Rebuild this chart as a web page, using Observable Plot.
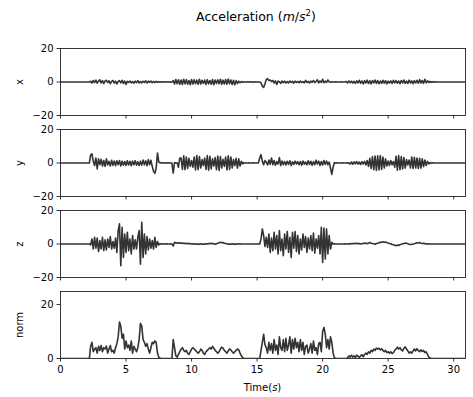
<!DOCTYPE html>
<html><head><meta charset="utf-8">
<script src="https://cdn.jsdelivr.net/npm/d3@7"></script>
<script src="https://cdn.jsdelivr.net/npm/@observablehq/plot@0.6"></script>
<style>
body{margin:0;background:#fff;font-family:"DejaVu Sans",sans-serif;}
#fig{position:relative;width:473px;height:397px;overflow:hidden;background:#fff}
#title{position:absolute;top:10px;left:0;width:512px;text-align:center;font-size:12.5px;line-height:14px;color:#000;white-space:nowrap}
#title sup{font-size:8.5px;position:relative;top:-5px;vertical-align:baseline;line-height:0}
#xlabel{position:absolute;top:381px;left:0;width:525px;text-align:center;font-size:10px;line-height:14px;color:#000}
.panel{position:absolute;left:0}
</style></head>
<body>
<div id="fig">
  <div id="title">Acceleration (<i>m</i>/<i>s</i><sup>2</sup>)</div>
  <div id="xlabel">Time(<i>s</i>)</div>
</div>
<script>
// sampling grid of the readings (seconds)
const tStart = 2.2, tStep = 0.1, tEnd = 30.9;
const xTicks = [0, 5, 10, 15, 20, 25, 30];
const axisTicks = [-20, 0, 20];
const normTicks = [0, 20];
const panelNames = ["x", "y", "z", "norm"];

const accX = [
0,0.4,-0.6,0.9,-0.4,1.1,-0.7,0.5,1.3,-0.5,
0.8,-0.9,0.6,1.0,-0.3,0.7,-1.0,0.4,0.9,-0.6,
0.5,-1.2,0.3,0.8,-0.5,1.0,-0.8,0.6,-1.4,0.4,
-0.3,0.6,-0.5,0.3,-0.7,0.5,-0.4,0.8,-0.6,0.3,
-0.5,0.4,-0.3,0.7,-0.6,0.5,-0.2,0.6,-0.4,0.3,
-0.3,0.4,-0.2,0.2,-0.1,0.1,0,0.1,0,0,
0.1,0,-0.1,0,0.8,-1.2,1.5,-1.0,1.3,-1.4,
1.2,-1.5,1.6,-1.1,1.4,-1.3,0.9,-1.6,1.5,-1.2,
1.3,-1.0,1.1,-1.4,1.6,-1.2,1.0,-0.8,1.2,-1.5,
1.4,-1.1,0.9,-1.3,1.5,-1.6,1.2,-0.9,1.3,-1.1,
1.6,-1.4,1.1,-1.2,1.5,-1.3,1.8,-1.0,1.2,-1.5,
1.0,-1.6,0.8,-0.9,0.5,-0.4,0.3,-0.2,0.1,0,
0,0.1,0,0.1,0,-0.1,0,0.1,0,0,
0,-0.5,-2.5,-3.2,-1.0,1.5,2.0,0.8,1.2,0.3,
0.9,-0.6,0.7,-1.5,0.5,0.2,-0.8,0.6,-0.4,0.5,
-0.6,0.3,-0.5,0.6,-0.3,0.4,-0.7,0.5,-0.2,0.3,
-0.4,0.6,-0.3,0.2,-0.5,1.0,-0.3,0.4,-0.6,0.5,
-0.2,0.9,-0.4,0.3,1.3,-0.5,0.6,-0.3,1.6,-0.4,
0.5,-0.3,1.2,0.2,-0.1,0.1,0,0,0.1,0,
0,0,0.1,0,0,0,0.3,-0.5,0.6,-0.4,
0.5,-0.6,0.4,-0.8,0.7,-0.5,1.0,-0.7,0.6,-1.2,
0.8,-0.6,1.1,-0.9,0.7,-1.1,0.9,-0.5,1.2,-0.8,
0.9,-1.0,0.6,-0.8,1.0,-0.7,0.8,-1.1,0.5,-0.6,
0.7,-0.9,1.0,-0.5,0.8,-0.7,0.6,-1.0,0.9,-0.6,
1.2,-0.8,0.5,-0.9,1.1,-0.6,0.7,-1.0,0.8,-0.5,
1.0,-0.7,1.4,-0.6,0.9,-0.8,1.6,-0.5,0.7,-0.3,
0.3,-0.2,0.2,-0.1,0.1,0,0,0,0,0
];

const accY = [
0,4.8,5.5,1.0,-1.5,3.0,-3.5,2.5,-1.0,2.2,
-1.8,1.5,-2.0,2.5,-1.2,1.0,-1.8,1.6,-1.4,1.2,
-1.6,1.3,-1.0,1.5,-1.8,1.1,-1.3,0.9,-1.5,1.4,
-1.2,1.0,-1.6,1.2,-1.0,1.4,-1.3,0.8,-1.5,1.1,
-1.3,1.8,-1.1,1.3,-1.6,2.0,-1.0,1.6,-2.0,-5.0,
-6.2,-3.0,6.0,0.5,0.2,0.1,0,0.1,0,0.1,
0,0.1,0,-0.1,-6.0,0.3,0,0.1,-2.5,3.0,
3.0,-3.8,4.3,-4.0,3.6,-3.2,2.8,-2.0,1.5,-2.5,
3.5,-4.2,4.5,-4.0,3.8,-3.0,2.0,-1.5,3.0,-3.8,
4.4,-4.3,4.0,-3.5,2.5,-1.8,3.2,-4.0,4.2,-4.4,
3.8,-3.0,2.2,-2.0,3.5,-4.1,4.3,-3.8,3.6,-3.0,
2.0,-1.5,2.8,-3.0,2.5,-1.8,1.0,-0.5,0.2,0,
0,0,0.1,0,0,0.1,0,0,0,0.1,
3.0,5.0,1.0,-1.0,1.5,0.5,-1.2,1.8,-0.8,3.0,
-1.0,1.5,-1.3,0.8,-0.6,3.2,-1.5,1.2,-1.0,0.9,
-1.2,1.0,-0.8,1.3,-1.5,0.7,-0.9,1.1,-0.6,0.8,
-1.0,0.9,-1.4,1.2,-0.7,0.6,-1.1,1.4,-0.9,1.0,
-1.3,0.8,-1.0,1.7,-0.6,1.1,-1.5,0.9,-1.2,1.5,
-0.8,1.2,-1.0,0.5,-3.0,-6.8,-2.5,0.3,0,0.1,
0,0,0,0.1,0,0,0,0.1,0,-0.6,
0.6,-0.8,0.7,-0.5,0.9,-0.7,0.6,-0.9,0.8,-0.6,
1.0,-1.2,1.5,-2.0,2.8,-3.2,3.8,-4.0,4.2,-4.4,
4.3,-4.1,4.4,-3.9,3.5,-3.0,2.5,-1.8,1.2,-1.5,
1.5,-1.0,0.8,-2.5,4.0,-4.3,4.5,-4.0,3.8,-3.5,
3.2,-3.0,2.0,-1.2,1.8,-3.0,3.5,-3.2,3.4,-3.0,
3.0,-3.2,2.8,-3.0,2.5,-2.2,1.8,-1.5,1.0,-0.6,
0.3,-0.2,0.1,0,0,0,0,0,0,0
];

const accZ = [
0,-0.5,3.0,-3.0,4.0,-2.5,3.5,-4.5,2.0,-3.0,
4.0,-4.0,2.5,-3.5,3.0,-2.0,4.5,-3.0,1.5,-2.5,
3.5,-5.0,8.0,12.0,-13.0,10.0,-8.0,6.0,-5.0,7.0,
-4.0,3.0,-6.0,5.0,-3.0,2.5,-3.0,4.0,8.0,-12.0,
13.0,-8.0,6.0,-6.0,4.5,-3.5,3.0,-2.5,2.0,-3.0,
4.0,-2.0,1.5,-0.5,0.2,0,0.1,0,0,0.1,
0,0,0.1,0,-1.2,1.0,0.6,0.8,0.5,0.7,
0.4,0.6,0.3,0.5,0.2,0.4,0.1,0.3,0.0,0.2,
-0.1,0.1,-0.2,0,-0.1,0.1,-0.2,0.0,-0.1,0.2,
0,0.3,0.1,0.5,0.2,0.1,-0.1,0.2,0.5,0.8,
1.0,0.7,0.9,0.5,0.3,0.1,-0.1,0.0,-0.2,0.1,
-0.1,0,-0.2,0.1,0,0.1,0,0,0,0,
0,0,0,0,0,0,0,0,0,0,
0,3.0,9.0,5.0,-1.5,4.0,-2.0,6.0,-5.0,3.5,
-4.0,7.0,-3.0,5.0,-6.0,8.0,-4.0,3.0,-7.0,6.0,
-3.0,7.5,-5.0,4.0,-8.0,7.0,-2.5,7.5,-4.5,5.0,
-6.0,3.0,-3.5,6.0,-2.0,4.5,-5.0,3.5,-3.0,5.0,
-4.0,6.5,-5.5,3.0,-2.5,5.0,-6.0,10.0,-11.0,9.5,
-9.0,9.0,-6.0,5.0,-3.0,1.0,0,0.1,0,0,
0,0,0,0,0,0.1,0,0,0.2,0,
0.3,0.1,0.4,0.2,0.5,0.1,0.3,0,0.2,0.4,
0.3,0.6,0.2,0.5,1.0,0.4,0.3,0.1,-0.2,0.3,
0.5,0.8,1.1,0.9,1.3,1.0,1.2,0.8,0.6,0.3,
0.1,-0.3,-0.5,-0.8,-1.0,-0.6,-0.9,-0.4,-0.2,0.1,
0.3,0.5,0.4,0.2,-0.1,-0.3,-0.2,0,0.2,0.5,
0.8,0.6,0.9,0.5,0.3,0.4,0.2,0.1,0,0.1,
0,0,0,0,0,0,0,0,0,0
];

const accNorm = [
0,4.5,6.0,2.5,3.5,4.0,2.0,4.5,3.0,4.8,
2.5,4.0,3.5,4.6,2.0,3.5,4.8,2.5,3.0,2.0,
4.0,5.5,8.0,13.5,12.0,7.5,9.0,3.5,6.5,4.0,
5.0,3.0,6.5,2.0,4.5,3.5,2.5,4.0,7.0,13.0,
12.0,7.0,6.0,4.5,5.5,3.5,2.0,4.0,6.0,5.5,
6.5,6.0,2.0,0.5,0.1,0,0,0,0,0,
0,0,0,0,7.0,4.0,1.0,0.5,1.5,2.5,
3.5,4.0,3.0,2.5,3.0,2.0,1.5,2.5,3.5,4.0,
3.5,3.0,2.5,2.0,2.5,3.5,3.0,2.0,1.5,2.5,
3.0,3.5,4.0,3.5,4.5,3.8,3.0,2.5,2.0,2.5,
3.5,4.2,3.8,3.0,2.5,2.0,2.8,3.5,3.2,2.5,
2.0,2.5,3.0,3.5,3.2,2.0,1.0,0.3,0,0,
0,0,0,0,0,0,0,0,0,0,
0,3.0,6.0,9.0,5.0,4.0,2.0,6.0,3.0,5.5,
2.0,7.0,3.0,5.0,1.5,8.0,4.0,3.0,7.0,2.5,
7.5,3.0,5.0,8.0,2.0,7.0,3.5,7.5,4.0,6.0,
2.5,7.0,3.0,6.0,1.5,4.5,5.0,2.0,3.5,5.5,
2.0,6.5,3.0,4.0,1.5,5.5,6.0,2.5,10.0,11.5,
9.0,4.0,7.0,3.5,8.0,6.0,2.0,0.3,0,0,
0,0,0,0,0,0,0,0.2,1.0,0.5,
1.2,0.5,1.0,0.3,1.3,0.8,0.4,1.0,1.4,0.6,
1.5,2.0,1.5,2.5,2.0,3.0,2.5,3.5,3.0,3.8,
3.5,3.8,3.2,3.6,3.0,2.5,3.0,2.2,2.5,2.0,
2.5,1.8,2.2,3.0,3.5,4.2,3.5,4.0,3.2,2.8,
3.8,4.3,3.5,2.8,2.0,2.5,2.0,2.8,3.5,2.8,
3.6,3.0,2.5,3.2,2.6,3.0,2.2,2.5,1.5,0.5,
0.2,0,0,0,0,0,0,0,0,0
];

function toRows(vals) {
  const rows = [{t: 0, v: 0}];
  vals.forEach((v, i) => rows.push({t: +(tStart + i * tStep).toFixed(2), v}));
  rows.push({t: tEnd, v: 0});
  return rows;
}

const seriesList = [accX, accY, accZ, accNorm];
const panelTops = [48, 129, 210, 291];
const panelH = 67;
const mt = 8;
const fig = document.getElementById("fig");

seriesList.forEach((vals, k) => {
  const isNorm = k === 3;
  const mb = isNorm ? 24 : 8;
  const chart = Plot.plot({
    width: 473,
    height: mt + panelH + mb,
    marginTop: mt,
    marginBottom: mb,
    marginLeft: 60,
    marginRight: 8,
    x: {domain: [0, tEnd]},
    y: {domain: isNorm ? [0, 24.8] : [-20, 20]},
    style: {fontFamily: "DejaVu Sans, sans-serif", fontSize: "10px", color: "#000", background: "transparent", overflow: "visible"},
    marks: [
      Plot.axisY({ticks: isNorm ? normTicks : axisTicks, tickSize: 3.5, tickPadding: 3.5, strokeWidth: 0.8,
        label: panelNames[k], labelAnchor: "center", labelArrow: "none", labelOffset: 45}),
      Plot.axisX({ticks: xTicks, tickSize: 3.5, tickPadding: 3.5, strokeWidth: 0.8, label: null,
        tickFormat: isNorm ? (d => String(d)) : (() => "")}),
      Plot.lineY(toRows(vals), {x: "t", y: "v", stroke: "#333", strokeWidth: 1.6, clip: true}),
      Plot.frame({stroke: "#222", strokeWidth: 0.9})
    ]
  });
  chart.classList.add("panel");
  chart.style.top = (panelTops[k] - mt) + "px";
  fig.appendChild(chart);
});
</script>
</body></html>
